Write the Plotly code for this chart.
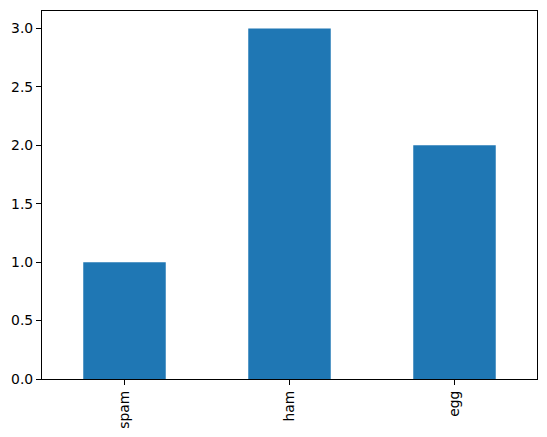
import plotly.graph_objects as go

categories = ["spam", "ham", "egg"]
values = [1, 3, 2]
y_ticks = [0.0, 0.5, 1.0, 1.5, 2.0, 2.5, 3.0]
y_tick_labels = ["0.0", "0.5", "1.0", "1.5", "2.0", "2.5", "3.0"]

fig = go.Figure(go.Bar(x=categories, y=values, width=0.5, marker=dict(color="#1f77b4", line=dict(width=0)),
                       hoverinfo="skip"))

axis_common = dict(
    showline=True, linecolor="black", linewidth=1.1, mirror=True,
    ticks="outside", ticklen=5, tickwidth=1.1, tickcolor="black",
    showgrid=False, zeroline=False, automargin=False,
    tickfont=dict(family="DejaVu Sans", size=13.9, color="black"),
)

fig.update_layout(
    width=547, height=437,
    margin=dict(l=42, r=9.5, t=10.5, b=57.7, pad=0),
    plot_bgcolor="white", paper_bgcolor="white",
    showlegend=False,
    xaxis=dict(type="category", range=[-0.5, 2.5], tickangle=-90, **axis_common),
    yaxis=dict(range=[0, 3.15], tickvals=y_ticks, ticktext=y_tick_labels, **axis_common),
)

fig.write_html("out.html", config={"displayModeBar": False},
               post_script="document.body.style.margin='0';document.body.style.overflow='hidden';")
